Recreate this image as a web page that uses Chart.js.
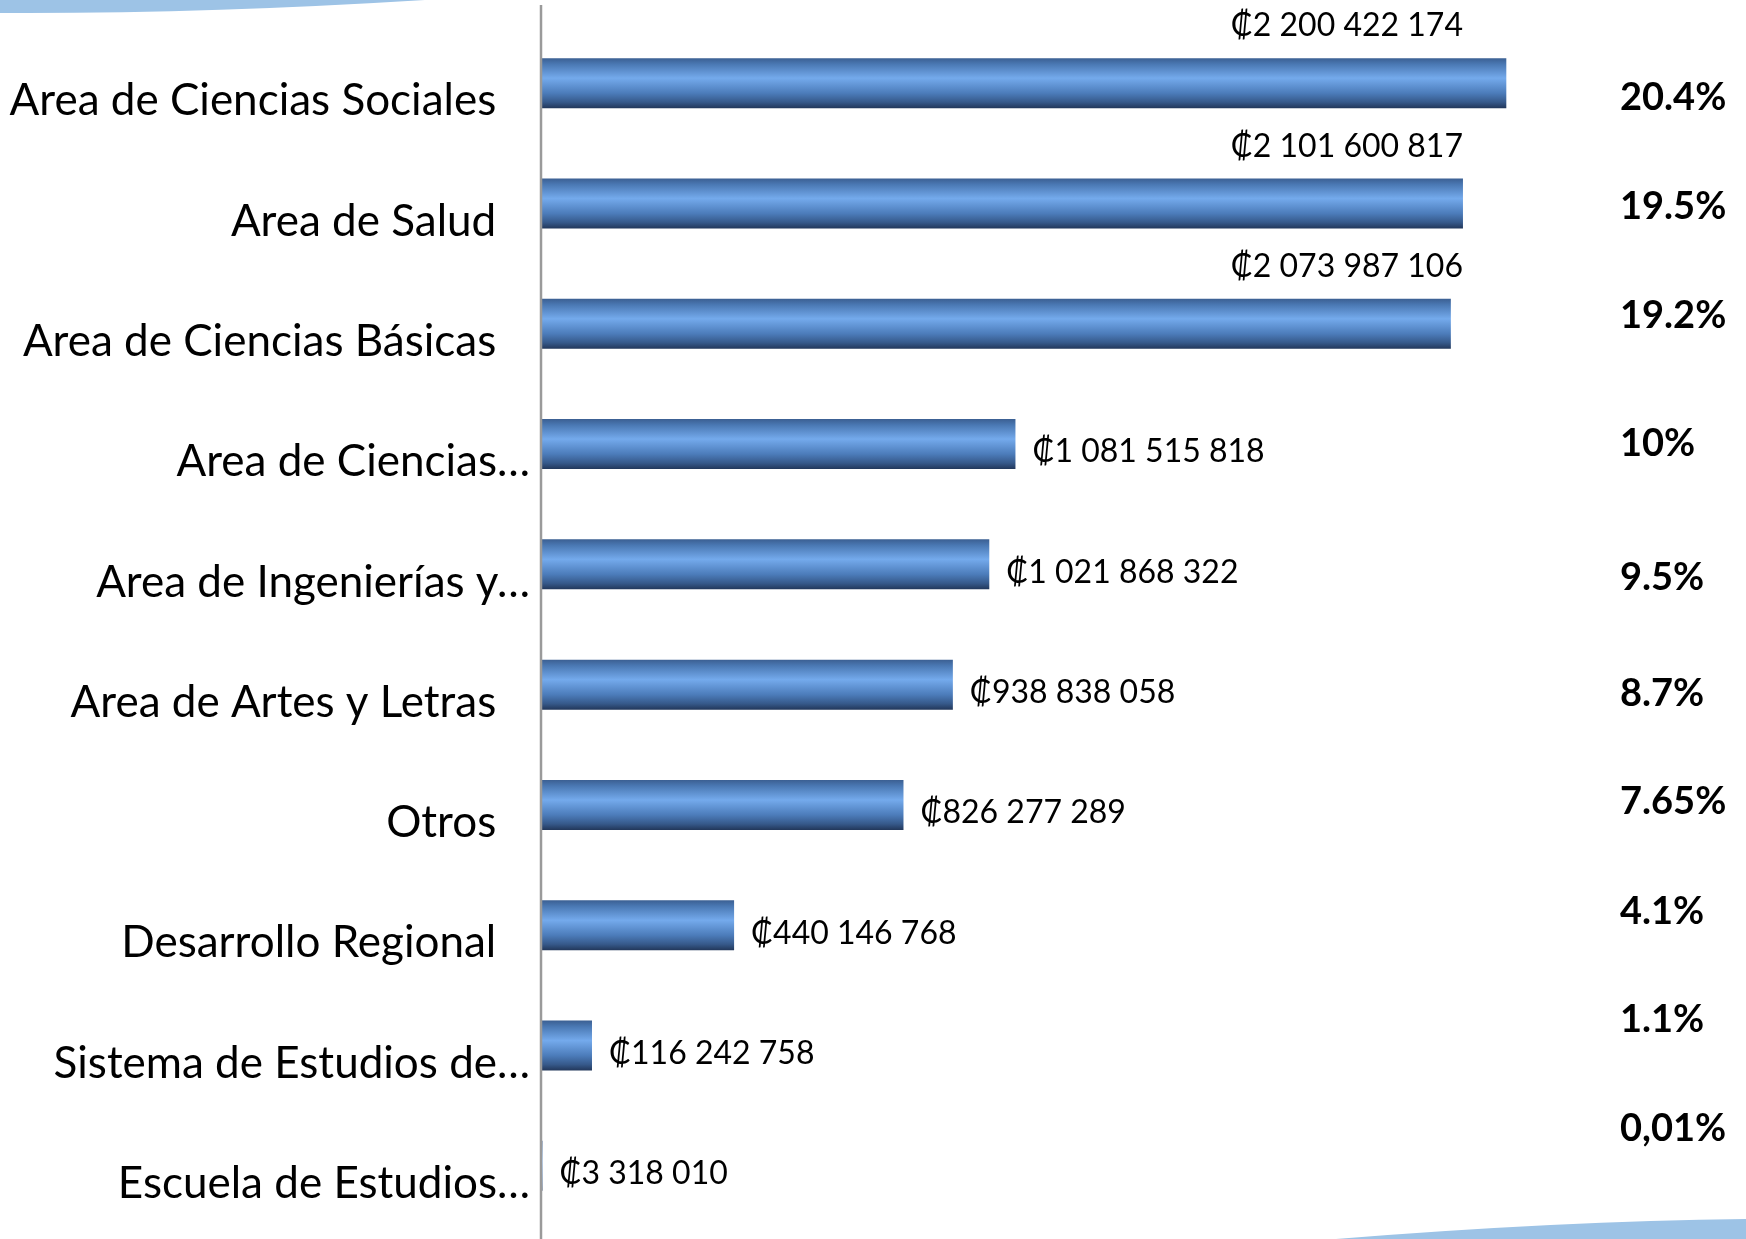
<!DOCTYPE html>
<html>
<head>
<meta charset="utf-8">
<script src="https://cdn.jsdelivr.net/npm/chart.js@4"></script>
<style>
  body { margin: 0; background: #fff; }
  canvas { display: block; }
</style>
</head>
<body>
<canvas id="myChart" width="1746" height="1239"></canvas>
<script>
const categorias = [
    'Area de Ciencias Sociales',
    'Area de Salud',
    'Area de Ciencias Básicas',
    'Area de Ciencias…',
    'Area de Ingenierías y…',
    'Area de Artes y Letras',
    'Otros',
    'Desarrollo Regional',
    'Sistema de Estudios de…',
    'Escuela de Estudios…'
];
const montos = [2200422174, 2101600817, 2073987106, 1081515818, 1021868322, 938838058, 826277289, 440146768, 116242758, 3318010];
const porcentajes = ['20.4%', '19.5%', '19.2%', '10%', '9.5%', '8.7%', '7.65%', '4.1%', '1.1%', '0,01%'];

const FONT = 'Lato, "Noto Sans", sans-serif';
const BAR_PCT = 0.416;

function colones(v) {
    return '₡' + v.toString().replace(/\B(?=(\d{3})+(?!\d))/g, ' ');
}

// decoracion de la diapositiva, etiquetas de monto y porcentaje
const extras = {
    id: 'extras',
    beforeDraw(chart) {
        const ctx = chart.ctx;
        ctx.save();
        ctx.fillStyle = '#9dc3e6';
        ctx.beginPath();
        ctx.moveTo(0, 0);
        ctx.lineTo(425, 0);
        ctx.quadraticCurveTo(200, 14, 0, 13);
        ctx.closePath();
        ctx.fill();

        ctx.beginPath();
        ctx.moveTo(1336, 1239);
        ctx.quadraticCurveTo(1560, 1221, 1746, 1219);
        ctx.lineTo(1746, 1239);
        ctx.closePath();
        ctx.fill();
        ctx.restore();
    },
    afterDatasetsDraw(chart) {
        const ctx = chart.ctx;
        const meta = chart.getDatasetMeta(0);
        const x = chart.scales.x;
        // los porcentajes son cuadros de texto sueltos, no quedan alineados con las barras
        const desfasePct = [15, 3, -8, 0, 13, 9, -3, -14, -26, -37];
        ctx.save();

        // eje vertical
        ctx.strokeStyle = '#9a9a9a';
        ctx.lineWidth = 2.5;
        ctx.beginPath();
        ctx.moveTo(chart.chartArea.left, 5);
        ctx.lineTo(chart.chartArea.left, 1239);
        ctx.stroke();

        ctx.fillStyle = '#000';
        ctx.textBaseline = 'middle';
        meta.data.forEach((bar, i) => {
            ctx.font = '32px ' + FONT;
            if (i < 3) {
                ctx.textAlign = 'right';
                ctx.fillText(colones(montos[i]), x.getPixelForValue(montos[1]), bar.y - 57);
            } else {
                ctx.textAlign = 'left';
                ctx.fillText(colones(montos[i]), bar.x + 17, bar.y + 8);
            }
            ctx.font = 'bold 38px ' + FONT;
            ctx.textAlign = 'left';
            ctx.fillText(porcentajes[i], 1620, bar.y + desfasePct[i]);
        });
        ctx.restore();
    }
};

document.addEventListener('DOMContentLoaded', function () {
    const canvas = document.getElementById('myChart');

    new Chart(canvas, {
        type: 'bar',
        data: {
            labels: categorias,
            datasets: [{
                data: montos,
                barPercentage: BAR_PCT,
                categoryPercentage: 1,
                borderWidth: 0,
                backgroundColor: (context) => {
                    const chart = context.chart;
                    const { ctx, chartArea } = chart;
                    if (!chartArea || context.dataIndex === undefined) {
                        return '#4a7ab8';
                    }
                    const y = chart.scales.y.getPixelForValue(context.dataIndex);
                    const half = (chartArea.bottom - chartArea.top) / categorias.length * BAR_PCT / 2;
                    const g = ctx.createLinearGradient(0, y - half, 0, y + half);
                    g.addColorStop(0, '#3b5f92');
                    g.addColorStop(0.12, '#4a78b3');
                    g.addColorStop(0.4, '#74aaec');
                    g.addColorStop(0.7, '#4c7cba');
                    g.addColorStop(0.88, '#36598a');
                    g.addColorStop(1, '#22375a');
                    return g;
                }
            }]
        },
        options: {
            indexAxis: 'y',
            responsive: false,
            animation: false,
            layout: {
                padding: { top: 23, bottom: 13, left: 0, right: 196 }
            },
            scales: {
                x: {
                    display: false,
                    min: 0,
                    max: 2300000000
                },
                y: {
                    afterFit: (scale) => {
                        scale.width = 541;
                        scale.paddingTop = 0;
                        scale.paddingBottom = 0;
                    },
                    grid: { display: false, drawTicks: false },
                    border: { display: false },
                    ticks: {
                        color: '#000',
                        padding: 11,
                        labelOffset: 18,
                        font: { family: FONT, size: 44 },
                        callback: function (value, index) {
                            const label = categorias[index];
                            return label.endsWith('…') ? label : label + '   ';
                        }
                    }
                }
            },
            plugins: {
                legend: { display: false },
                tooltip: { enabled: false }
            }
        },
        plugins: [extras]
    });
});
</script>
</body>
</html>
